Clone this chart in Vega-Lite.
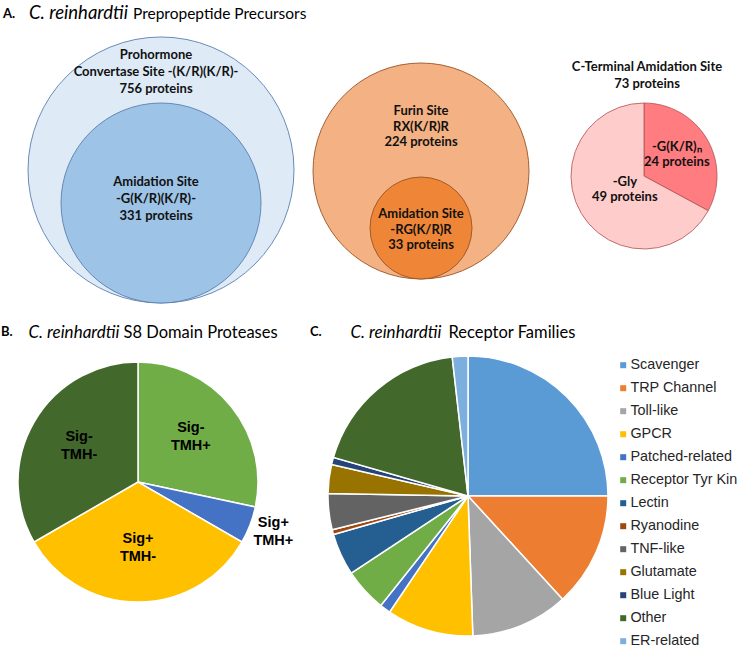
{
"$schema": "https://vega.github.io/schema/vega-lite/v6.json",
"autosize": {"type": "pad"},
"padding": {"top": 3, "left": 0, "right": 0, "bottom": 0},
"background": "#ffffff",
"config": {
  "view": {"stroke": null},
  "title": {"font": "Lato", "fontSize": 15.5, "fontWeight": "normal", "color": "#000000", "anchor": "start", "frame": "group", "offset": 0, "baseline": "alphabetic"}
},
"spacing": 12,
"resolve": {"scale": {"color": "independent", "theta": "independent", "radius": "independent"}},
"vconcat": [
  {
    "bounds": "flush",
    "spacing": 0,
    "resolve": {"scale": {"color": "independent", "theta": "independent", "radius": "independent"}},
    "hconcat": [
      {
        "width": 320, "height": 302,
        "title": {"text": "A.", "fontWeight": "bold", "fontSize": 13, "dx": 3, "dy": 22},
        "data": {"values": [
          {"site": "Prohormone Convertase Site -(K/R)(K/R)-", "proteins": 756, "label": ["Prohormone", "Convertase Site -(K/R)(K/R)-", "756 proteins"]},
          {"site": "Amidation Site -G(K/R)(K/R)-", "proteins": 331, "label": ["Amidation Site", "-G(K/R)(K/R)-", "331 proteins"]}
        ]},
        "layer": [
          {
            "mark": {"type": "arc", "theta": 0, "theta2": 6.2832, "stroke": "#5B7FAF", "strokeWidth": 0.9, "xOffset": 1},
            "encoding": {
              "y": {"field": "proteins", "type": "quantitative", "stack": null, "scale": {"domain": [331, 756], "range": [200, 167], "zero": false, "nice": false}, "axis": null},
              "radius": {"field": "proteins", "type": "quantitative", "stack": null, "scale": {"type": "linear", "domain": [331, 756], "range": [100, 133], "zero": false, "nice": false}},
              "radius2": {"value": 0},
              "color": {"field": "site", "type": "nominal", "scale": {"domain": ["Prohormone Convertase Site -(K/R)(K/R)-", "Amidation Site -G(K/R)(K/R)-"], "range": ["#DEEBF7", "#9DC3E6"]}, "legend": null}
            }
          },
          {
            "mark": {"type": "text", "font": "Lato", "fontWeight": "bold", "fontSize": 13, "lineHeight": 17, "color": "#111111", "xOffset": -4},
            "encoding": {
              "y": {"field": "proteins", "type": "quantitative", "scale": {"domain": [331, 756], "range": [179, 52], "zero": false, "nice": false}, "axis": null},
              "text": {"field": "label"}
            }
          }
        ],
        "resolve": {"scale": {"y": "independent"}}
      },
      {
        "width": 210, "height": 302,
        "title": {"text": "C. reinhardtii", "fontStyle": "italic", "fontSize": 18.5, "dx": -291, "dy": 23},
        "data": {"values": [
          {"site": "Furin Site RX(K/R)R", "proteins": 224, "label": ["Furin Site", "RX(K/R)R", "224 proteins"]},
          {"site": "Amidation Site -RG(K/R)R", "proteins": 33, "label": ["Amidation Site", "-RG(K/R)R", "33 proteins"]}
        ]},
        "layer": [
          {
            "mark": {"type": "arc", "theta": 0, "theta2": 6.2832, "stroke": "#9A5324", "strokeWidth": 0.9, "xOffset": -4},
            "encoding": {
              "y": {"field": "proteins", "type": "quantitative", "stack": null, "scale": {"domain": [33, 224], "range": [225, 168], "zero": false, "nice": false}, "axis": null},
              "radius": {"field": "proteins", "type": "quantitative", "stack": null, "scale": {"type": "linear", "domain": [33, 224], "range": [51, 108], "zero": false, "nice": false}},
              "radius2": {"value": 0},
              "color": {"field": "site", "type": "nominal", "scale": {"domain": ["Furin Site RX(K/R)R", "Amidation Site -RG(K/R)R"], "range": ["#F4B183", "#EF8637"]}, "legend": null}
            }
          },
          {
            "mark": {"type": "text", "font": "Lato", "fontWeight": "bold", "fontSize": 13, "lineHeight": 15.5, "color": "#111111", "xOffset": -4},
            "encoding": {
              "y": {"field": "proteins", "type": "quantitative", "scale": {"domain": [33, 224], "range": [211, 108], "zero": false, "nice": false}, "axis": null},
              "text": {"field": "label"}
            }
          }
        ],
        "resolve": {"scale": {"y": "independent"}}
      },
      {
        "width": 210, "height": 302,
        "title": {"text": "Prepropeptide Precursors", "dx": -397, "dy": 23},
        "data": {"values": [
          {"terminus": "-G(K/R)n", "proteins": 24, "slice": 1, "label": ["-G(K/R)ₙ", "24 proteins"]},
          {"terminus": "-Gly", "proteins": 49, "slice": 2, "label": ["-Gly", "49 proteins"]}
        ]},
        "encoding": {
          "theta": {"field": "proteins", "type": "quantitative", "stack": true},
          "order": {"field": "slice", "type": "quantitative"}
        },
        "layer": [
          {
            "mark": {"type": "arc", "radius": 73, "stroke": "#B0504F", "strokeWidth": 0.8, "xOffset": 9, "yOffset": 22},
            "encoding": {
              "color": {"field": "terminus", "type": "nominal", "scale": {"domain": ["-G(K/R)n", "-Gly"], "range": ["#FF7C80", "#FFCCCC"]}, "legend": null}
            }
          },
          {
            "mark": {"type": "text", "radius": 37, "dy": -10.5, "font": "Lato", "fontWeight": "bold", "fontSize": 13, "lineHeight": 15, "color": "#111111", "xOffset": 10, "yOffset": 22},
            "encoding": {
              "text": {"condition": {"test": "datum.proteins > 30", "value": ""}, "field": "label"}
            }
          },
          {
            "mark": {"type": "text", "radius": 27, "dy": -7.5, "font": "Lato", "fontWeight": "bold", "fontSize": 13, "lineHeight": 15, "color": "#111111", "xOffset": 13, "yOffset": 22},
            "encoding": {
              "text": {"condition": {"test": "datum.proteins < 30", "value": ""}, "field": "label"}
            }
          },
          {
            "data": {"values": [{"heading": ["C-Terminal Amidation Site", "73 proteins"]}]},
            "mark": {"type": "text", "theta": 0, "radius": 101, "dy": -8.5, "font": "Lato", "fontWeight": "bold", "fontSize": 13, "lineHeight": 17, "color": "#111111", "xOffset": 12, "yOffset": 22},
            "encoding": {
              "theta": null,
              "order": null,
              "text": {"field": "heading"}
            }
          }
        ]
      }
    ]
  },
  {
    "bounds": "flush",
    "spacing": 0,
    "resolve": {"scale": {"color": "independent", "theta": "independent", "radius": "independent"}},
    "hconcat": [
      {
        "width": 300, "height": 332,
        "title": {"text": "B.", "fontWeight": "bold", "fontSize": 13, "dx": 1, "dy": 26},
        "data": {"values": [
          {"study": "S8 Domain Proteases", "group": "Sig- TMH+", "proteases": 17, "rank": 1},
          {"study": "S8 Domain Proteases", "group": "Sig+ TMH+", "proteases": 3, "rank": 2},
          {"study": "S8 Domain Proteases", "group": "Sig+ TMH-", "proteases": 20, "rank": 3},
          {"study": "S8 Domain Proteases", "group": "Sig- TMH-", "proteases": 20, "rank": 4}
        ]},
        "encoding": {
          "x": {"field": "study", "type": "nominal", "scale": {"type": "point"},
            "axis": {"orient": "top", "domain": false, "ticks": false, "tickSize": 0, "grid": false, "labelPadding": -20, "labelBaseline": "alphabetic", "labelAlign": "left", "labelOffset": -27, "labelAngle": 0, "labelFont": "Lato", "labelFontSize": 16.5, "labelColor": "#000000", "labelLimit": 300,
              "title": "C. reinhardtii", "titleFont": "Lato", "titleFontStyle": "italic", "titleFontWeight": "normal", "titleFontSize": 17, "titleColor": "#000000", "titleAnchor": "start", "titleAlign": "left", "titleBaseline": "alphabetic", "titleX": 28, "titleY": 20}},
          "theta": {"field": "proteases", "type": "quantitative", "stack": true},
          "order": {"field": "rank", "type": "quantitative"}
        },
        "layer": [
          {
            "mark": {"type": "arc", "radius": 120, "stroke": "#ffffff", "strokeWidth": 1.5, "xOffset": -12, "yOffset": -1},
            "encoding": {
              "color": {"field": "group", "type": "nominal", "scale": {"domain": ["Sig- TMH+", "Sig+ TMH+", "Sig+ TMH-", "Sig- TMH-"], "range": ["#70AD47", "#4472C4", "#FFC000", "#43682B"]}, "legend": null}
            }
          },
          {
            "mark": {"type": "text", "radius": 68, "dy": -11, "xOffset": -12, "yOffset": -1, "font": "Liberation Sans", "fontWeight": "bold", "fontSize": 14.5, "lineBreak": " ", "lineHeight": 18, "color": "#000000"},
            "encoding": {
              "text": {"condition": {"test": "datum.proteases < 5", "value": ""}, "field": "group", "type": "nominal"}
            }
          },
          {
            "mark": {"type": "text", "radius": 145, "dy": -11, "xOffset": -12, "yOffset": -1, "font": "Liberation Sans", "fontWeight": "bold", "fontSize": 14.5, "lineBreak": " ", "lineHeight": 18, "color": "#000000"},
            "encoding": {
              "text": {"condition": {"test": "datum.proteases >= 5", "value": ""}, "field": "group", "type": "nominal"}
            }
          }
        ]
      },
      {
        "width": 300, "height": 332,
        "title": {"text": "C.", "fontWeight": "bold", "fontSize": 13, "dx": 10, "dy": 26},
        "data": {"values": [
          {"study": "Receptor Families", "family": "Scavenger", "share": 25, "rank": 1},
          {"study": "Receptor Families", "family": "TRP Channel", "share": 13.2, "rank": 2},
          {"study": "Receptor Families", "family": "Toll-like", "share": 11.25, "rank": 3},
          {"study": "Receptor Families", "family": "GPCR", "share": 10, "rank": 4},
          {"study": "Receptor Families", "family": "Patched-related", "share": 1.25, "rank": 5},
          {"study": "Receptor Families", "family": "Receptor Tyr Kin", "share": 5, "rank": 6},
          {"study": "Receptor Families", "family": "Lectin", "share": 4.86, "rank": 7},
          {"study": "Receptor Families", "family": "Ryanodine", "share": 0.56, "rank": 8},
          {"study": "Receptor Families", "family": "TNF-like", "share": 4.17, "rank": 9},
          {"study": "Receptor Families", "family": "Glutamate", "share": 3.33, "rank": 10},
          {"study": "Receptor Families", "family": "Blue Light", "share": 0.83, "rank": 11},
          {"study": "Receptor Families", "family": "Other", "share": 18.75, "rank": 12},
          {"study": "Receptor Families", "family": "ER-related", "share": 1.8, "rank": 13}
        ]},
        "mark": {"type": "arc", "radius": 140, "stroke": "#ffffff", "strokeWidth": 1.5, "xOffset": 18, "yOffset": 13},
        "encoding": {
          "x": {"field": "study", "type": "nominal", "scale": {"type": "point"},
            "axis": {"orient": "top", "domain": false, "ticks": false, "tickSize": 0, "grid": false, "labelPadding": -20, "labelBaseline": "alphabetic", "labelAlign": "left", "labelOffset": -2, "labelAngle": 0, "labelFont": "Lato", "labelFontSize": 16.5, "labelColor": "#000000", "labelLimit": 300,
              "title": "C. reinhardtii", "titleFont": "Lato", "titleFontStyle": "italic", "titleFontWeight": "normal", "titleFontSize": 17, "titleColor": "#000000", "titleAnchor": "start", "titleAlign": "left", "titleBaseline": "alphabetic", "titleX": 50, "titleY": 20}},
          "theta": {"field": "share", "type": "quantitative", "stack": true},
          "order": {"field": "rank", "type": "quantitative"},
          "color": {"field": "family", "type": "nominal",
            "scale": {"domain": ["Scavenger", "TRP Channel", "Toll-like", "GPCR", "Patched-related", "Receptor Tyr Kin", "Lectin", "Ryanodine", "TNF-like", "Glutamate", "Blue Light", "Other", "ER-related"],
                      "range": ["#5B9BD5", "#ED7D31", "#A5A5A5", "#FFC000", "#4472C4", "#70AD47", "#255E91", "#9E480E", "#636363", "#997300", "#264478", "#43682B", "#7CAFDD"]},
            "legend": {"title": null, "orient": "none", "legendX": 316, "legendY": 41, "padding": 0, "symbolType": "square", "symbolSize": 36, "symbolStrokeWidth": 0, "labelFont": "Liberation Sans", "labelFontSize": 14.4, "labelColor": "#262626", "rowPadding": 8, "labelOffset": 0, "labelLimit": 200}
          }
        }
      }
    ]
  }
]
}
